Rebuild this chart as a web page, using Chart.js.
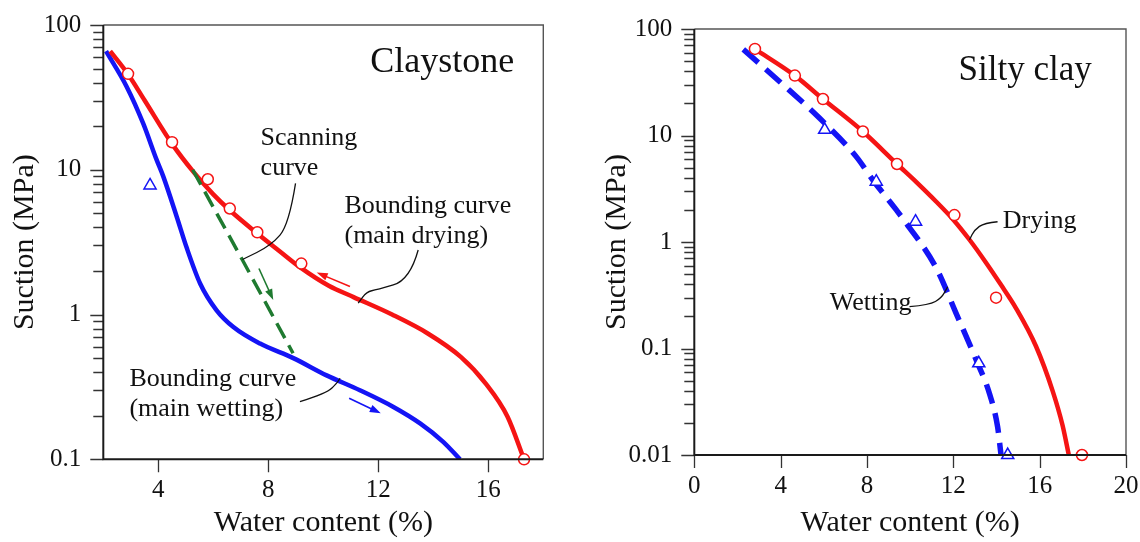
<!DOCTYPE html>
<html lang="en">
<head>
<meta charset="UTF-8">
<script src="https://cdn.jsdelivr.net/npm/chart.js"></script>
<style>
  html, body { margin: 0; padding: 0; background: #fff; }
  .wrap { position: relative; width: 1140px; height: 542px; }
  .wrap canvas { position: absolute; top: 0; }
  #clay { left: 0; }
  #silt { left: 570px; }
</style>
</head>
<body>
<div class="wrap">
  <canvas id="clay" width="570" height="542"></canvas>
  <canvas id="silt" width="570" height="542"></canvas>
</div>
<script>
  // ---- Claystone (left) ----
  const clayDryX = [2.25, 2.9, 3.5, 4.5, 5.3, 6.0, 6.6, 7.6, 8.4, 9.2, 10.2, 11.1, 12.5, 13.8, 15.0, 15.9, 16.7, 17.3];
  const clayDryY = [66, 45.7, 30.2, 15.1, 9.55, 6.76, 5.25, 3.63, 2.75, 2.09, 1.58, 1.32, 1.0, 0.74, 0.51, 0.335, 0.197, 0.10];
  const clayWetX = [2.1, 2.85, 3.45, 3.94, 4.18, 4.67, 5.03, 5.52, 6.12, 6.73, 7.7, 8.91, 10.12, 11.33, 12.55, 13.52, 14.36, 14.97];
  const clayWetY = [66, 37.5, 20.9, 11.7, 9.0, 4.74, 2.9, 1.64, 1.07, 0.82, 0.63, 0.50, 0.38, 0.30, 0.23, 0.177, 0.132, 0.10];
  const clayScanX = [5.25, 7.05, 8.9];
  const clayScanY = [10, 2.4, 0.54];
  const clayDryPtX = [2.9, 4.5, 5.8, 6.6, 7.6, 9.2, 17.3];
  const clayDryPtY = [46, 15.5, 8.6, 5.4, 3.7, 2.25, 0.1];
  const clayWetPtX = [3.7];
  const clayWetPtY = [7.8];
  const clayXTicks = [4, 8, 12, 16];
  const clayXLabels = ['4', '8', '12', '16'];
  const clayYMajor = [0.1, 1, 10, 100];
  const clayYLabels = ['0.1', '1', '10', '100'];

  // ---- Silty clay (right) ----
  const siltDryX = [2.8, 4.66, 5.96, 7.81, 9.39, 10.3, 11.2, 12.0, 12.75, 13.5, 14.2, 14.9, 15.83, 16.6, 17.06, 17.35];
  const siltDryY = [65, 36.5, 22, 10.9, 5.4, 3.63, 2.4, 1.62, 1.05, 0.646, 0.398, 0.24, 0.105, 0.04, 0.019, 0.01];
  const siltWetX = [2.27, 3.96, 5.81, 7.51, 8.28, 9.36, 9.82, 11.21, 12.13, 13.06, 13.67, 14.05, 14.21];
  const siltWetY = [64.4, 32, 14.5, 6.3, 3.8, 2.0, 1.5, 0.57, 0.214, 0.078, 0.038, 0.0185, 0.01];
  const siltDryPtX = [2.81, 4.66, 5.96, 7.81, 9.39, 12.05, 13.98, 17.96];
  const siltDryPtY = [65, 36.5, 22, 10.9, 5.4, 1.79, 0.30, 0.01];
  const siltWetPtX = [6.04, 8.43, 10.25, 13.18, 14.52];
  const siltWetPtY = [11.3, 3.68, 1.55, 0.0726, 0.01];
  const siltXTicks = [0, 4, 8, 12, 16, 20];
  const siltXLabels = ['0', '4', '8', '12', '16', '20'];
  const siltYMajor = [0.01, 0.1, 1, 10, 100];
  const siltYLabels = ['0.01', '0.1', '1', '10', '100'];

  const RED = '#f51414';
  const BLUE = '#1414f5';
  const GREEN = '#1f7a30';
  const INK = '#111';
  const SERIF = "'Liberation Serif', 'Times New Roman', serif";

  Chart.defaults.font.family = SERIF;
  Chart.defaults.color = INK;

  const pts = (xs, ys) => xs.map((x, i) => ({ x: x, y: ys[i] }));
  const isDecade = v => Math.abs(Math.log10(v) - Math.round(Math.log10(v))) < 1e-6;

  // log ticks 1..9 x each decade between the major values
  const logTicks = majors => {
    const out = [];
    majors.forEach((m, i) => {
      out.push(m);
      if (i < majors.length - 1) for (let k = 2; k <= 9; k++) out.push(m * k);
    });
    return out;
  };

  // frame + outward tick marks
  const frame = {
    id: 'frame',
    afterDatasetsDraw(chart) {
      const { ctx, chartArea: a, scales } = chart;
      ctx.save();
      ctx.strokeStyle = '#333';
      ctx.lineWidth = 1.3;
      ctx.beginPath();
      scales.y.ticks.forEach(t => {
        const py = Math.round(scales.y.getPixelForValue(t.value)) + 0.5;
        const len = isDecade(t.value) ? 13 : 10;
        ctx.moveTo(a.left - len, py);
        ctx.lineTo(a.left, py);
      });
      scales.x.ticks.forEach(t => {
        const px = Math.round(scales.x.getPixelForValue(t.value)) + 0.5;
        ctx.moveTo(px, a.bottom);
        ctx.lineTo(px, a.bottom + 13);
      });
      ctx.stroke();
      // top/right
      ctx.strokeStyle = '#555';
      ctx.lineWidth = 1.4;
      ctx.beginPath();
      ctx.moveTo(a.left, a.top);
      ctx.lineTo(a.right, a.top);
      ctx.lineTo(a.right, a.bottom);
      ctx.stroke();
      // left/bottom axes
      ctx.strokeStyle = '#1a1a1a';
      ctx.lineWidth = 2;
      ctx.beginPath();
      ctx.moveTo(a.left, a.top);
      ctx.lineTo(a.left, a.bottom);
      ctx.lineTo(a.right, a.bottom);
      ctx.stroke();
      ctx.restore();
    }
  };

  // texts, leader lines and arrows in data units
  const notes = {
    id: 'notes',
    afterDraw(chart, args, opts) {
      const { ctx, scales } = chart;
      const X = v => scales.x.getPixelForValue(v);
      const Y = v => scales.y.getPixelForValue(v);
      ctx.save();
      (opts.leaders || []).forEach(path => {
        const p = path.map(q => [X(q[0]), Y(q[1])]);
        ctx.strokeStyle = '#111';
        ctx.lineWidth = 1.3;
        ctx.beginPath();
        ctx.moveTo(p[0][0], p[0][1]);
        for (let i = 1; i < p.length - 1; i++) {
          const mx = (p[i][0] + p[i + 1][0]) / 2, my = (p[i][1] + p[i + 1][1]) / 2;
          ctx.quadraticCurveTo(p[i][0], p[i][1], mx, my);
        }
        ctx.lineTo(p[p.length - 1][0], p[p.length - 1][1]);
        ctx.stroke();
      });
      (opts.arrows || []).forEach(ar => {
        const x0 = X(ar.from[0]), y0 = Y(ar.from[1]);
        const x1 = X(ar.to[0]), y1 = Y(ar.to[1]);
        const ang = Math.atan2(y1 - y0, x1 - x0);
        ctx.strokeStyle = ar.color;
        ctx.fillStyle = ar.color;
        ctx.lineWidth = 1.6;
        ctx.beginPath();
        ctx.moveTo(x0, y0);
        ctx.lineTo(x1 - 6 * Math.cos(ang), y1 - 6 * Math.sin(ang));
        ctx.stroke();
        ctx.beginPath();
        ctx.moveTo(x1, y1);
        ctx.lineTo(x1 - 11 * Math.cos(ang) + 3.8 * Math.sin(ang), y1 - 11 * Math.sin(ang) - 3.8 * Math.cos(ang));
        ctx.lineTo(x1 - 11 * Math.cos(ang) - 3.8 * Math.sin(ang), y1 - 11 * Math.sin(ang) + 3.8 * Math.cos(ang));
        ctx.closePath();
        ctx.fill();
      });
      ctx.fillStyle = INK;
      ctx.textBaseline = 'middle';
      (opts.texts || []).forEach(t => {
        ctx.font = t.size + 'px ' + SERIF;
        ctx.textAlign = t.align || 'left';
        ctx.fillText(t.text, X(t.x), Y(t.y));
      });
      ctx.restore();
    }
  };

  function makeChart(id, c) {
    const marks = (xs, ys, style, color, r) => ({
      data: pts(xs, ys), showLine: false, pointStyle: style, pointRadius: r,
      pointBorderWidth: 1.5, pointBorderColor: color, pointBackgroundColor: '#fff', clip: false
    });
    const datasets = [
      marks(c.dryPtX, c.dryPtY, 'circle', RED, 5.5),
      marks(c.wetPtX, c.wetPtY, 'triangle', BLUE, 7)
    ].concat(c.lines);

    return new Chart(document.getElementById(id), {
      type: 'scatter',
      data: { datasets: datasets },
      options: {
        responsive: false,
        animation: false,
        devicePixelRatio: 1,
        layout: { padding: c.pad },
        plugins: { legend: { display: false }, tooltip: { enabled: false }, notes: c.notes },
        scales: {
          x: {
            type: 'linear', min: c.xMin, max: c.xMax,
            afterBuildTicks: s => { s.ticks = c.xTicks.map(v => ({ value: v })); },
            afterFit: s => { s.height = c.xH; s.paddingLeft = 0; s.paddingRight = 0; },
            ticks: {
              autoSkip: false, maxRotation: 0, padding: 16, color: INK,
              font: { size: 25 },
              callback: (v, i) => c.xLabels[i]
            },
            grid: { display: false, drawTicks: false },
            border: { display: false },
            title: { display: true, text: 'Water content (%)', color: INK, font: { size: 30 }, padding: { top: 0, bottom: 1 } }
          },
          y: {
            type: 'logarithmic', min: c.yMajor[0], max: c.yMajor[c.yMajor.length - 1],
            afterBuildTicks: s => { s.ticks = logTicks(c.yMajor).map(v => ({ value: v, major: isDecade(v) })); },
            afterFit: s => { s.width = c.yW; s.paddingTop = 0; s.paddingBottom = 0; },
            ticks: {
              autoSkip: false, padding: 22, color: INK,
              font: { size: 25 },
              callback: v => {
                const k = c.yMajor.findIndex(m => Math.abs(m - v) < m * 1e-6);
                return k >= 0 ? c.yLabels[k] : '';
              }
            },
            grid: { display: false, drawTicks: false },
            border: { display: false },
            title: { display: true, text: 'Suction (MPa)', color: INK, font: { size: 30 }, padding: { top: c.yTitlePad, bottom: 0 } }
          }
        }
      },
      plugins: [frame, notes]
    });
  }

  makeChart('clay', {
    xMin: 2, xMax: 18, xTicks: clayXTicks, xLabels: clayXLabels,
    yMajor: clayYMajor, yLabels: clayYLabels,
    pad: { left: 0, top: 25, right: 26.7, bottom: 0 }, xH: 82.7, yW: 103.3, yTitlePad: 7,
    dryPtX: clayDryPtX, dryPtY: clayDryPtY, wetPtX: clayWetPtX, wetPtY: clayWetPtY,
    lines: [
      { data: pts(clayScanX, clayScanY), showLine: true, borderColor: GREEN, borderWidth: 3.5, borderDash: [17, 8], pointRadius: 0, tension: 0 },
      {
        data: pts(clayDryX, clayDryY), showLine: true, borderColor: RED, borderWidth: 4.5, pointRadius: 0,
        cubicInterpolationMode: 'monotone'
      },
      {
        data: pts(clayWetX, clayWetY), showLine: true, borderColor: BLUE, borderWidth: 4.5, pointRadius: 0,
        cubicInterpolationMode: 'monotone'
      }
    ],
    notes: {
      texts: [
        { text: 'Claystone', x: 16.94, y: 55.3, size: 36, align: 'right' },
        { text: 'Scanning', x: 7.72, y: 16.5, size: 26 },
        { text: 'curve', x: 7.72, y: 10.3, size: 26 },
        { text: 'Bounding curve', x: 10.77, y: 5.56, size: 26 },
        { text: '(main drying)', x: 10.77, y: 3.49, size: 26 },
        { text: 'Bounding curve', x: 2.95, y: 0.355, size: 26 },
        { text: '(main wetting)', x: 2.95, y: 0.222, size: 26 }
      ],
      leaders: [
        [[8.99, 8.05], [8.75, 4.17], [8.1, 3.0], [7.06, 2.4]],
        [[13.45, 2.79], [13.15, 1.73], [11.94, 1.48], [11.58, 1.44], [11.27, 1.2]],
        [[9.15, 0.25], [10.12, 0.286], [10.49, 0.335], [10.61, 0.363]]
      ],
      arrows: [
        { from: [10.97, 1.56], to: [9.76, 1.95], color: RED },
        { from: [7.66, 2.08], to: [8.18, 1.26], color: GREEN },
        { from: [10.94, 0.264], to: [12.09, 0.208], color: BLUE }
      ]
    }
  });

  makeChart('silt', {
    xMin: 0, xMax: 20, xTicks: siltXTicks, xLabels: siltXLabels,
    yMajor: siltYMajor, yLabels: siltYLabels,
    pad: { left: 0, top: 29, right: 14, bottom: 0 }, xH: 87, yW: 124.3, yTitlePad: 29.5,
    dryPtX: siltDryPtX, dryPtY: siltDryPtY, wetPtX: siltWetPtX, wetPtY: siltWetPtY,
    lines: [
      {
        data: pts(siltWetX, siltWetY), showLine: true, borderColor: BLUE, borderWidth: 5.5, borderDash: [20, 10],
        borderCapStyle: 'butt', pointRadius: 0, cubicInterpolationMode: 'monotone'
      },
      {
        data: pts(siltDryX, siltDryY), showLine: true, borderColor: RED, borderWidth: 4.5, pointRadius: 0,
        cubicInterpolationMode: 'monotone'
      }
    ],
    notes: {
      texts: [
        { text: 'Silty clay', x: 18.41, y: 40.5, size: 35, align: 'right' },
        { text: 'Drying', x: 14.29, y: 1.57, size: 26 },
        { text: 'Wetting', x: 10.06, y: 0.264, size: 26, align: 'right' }
      ],
      leaders: [
        [[14.05, 1.55], [13.44, 1.51], [12.98, 1.3], [12.75, 1.05]],
        [[9.97, 0.247], [10.89, 0.256], [11.45, 0.298], [11.74, 0.38]]
      ],
      arrows: []
    }
  });
</script>
</body>
</html>
